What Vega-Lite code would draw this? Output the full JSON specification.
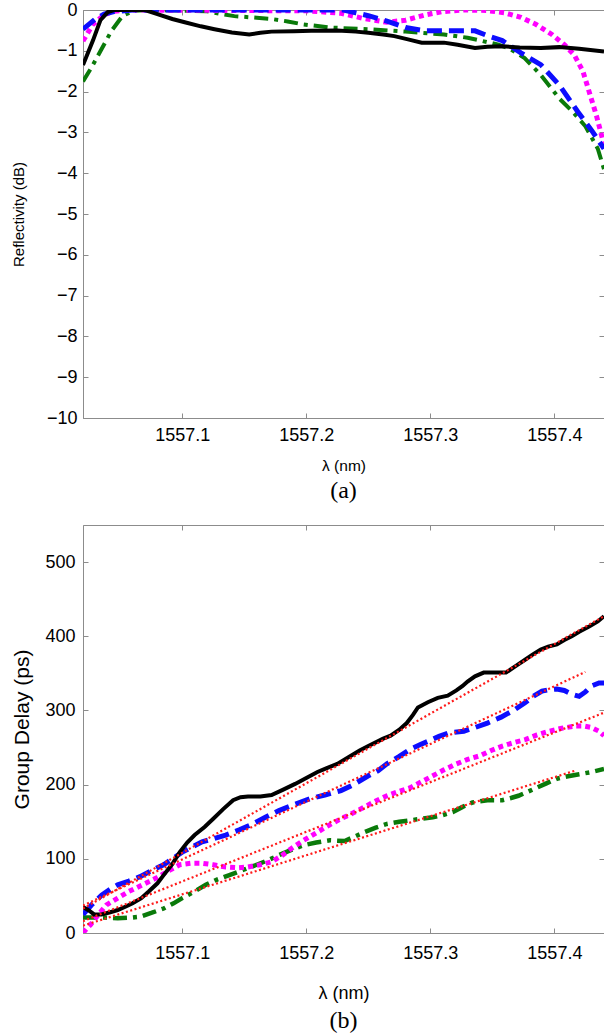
{
  "$schema": "https://vega.github.io/schema/vega-lite/v6.json",
  "padding": {"left": 10, "top": 0, "right": 0, "bottom": 0},
  "spacing": 21,
  "background": "white",
  "config": {
    "view": {"stroke": "#8c8c8c", "strokeWidth": 1},
    "axis": {
      "domainColor": "#8c8c8c", "tickColor": "#8c8c8c", "grid": false,
      "labelFont": "Liberation Sans", "labelFontSize": 18, "labelColor": "#000000",
      "titleFont": "Liberation Sans", "titleFontWeight": "normal", "titleColor": "#000000",
      "tickSize": -5
    },
    "title": {"font": "Liberation Serif", "fontWeight": "normal", "color": "#000000"}
  },
  "datasets": {
    "r_black": [
      {"lam": 1557.020, "v": -1.35}, {"lam": 1557.028, "v": -0.75}, {"lam": 1557.034, "v": -0.25}, {"lam": 1557.040, "v": -0.05},
      {"lam": 1557.045, "v": 0}, {"lam": 1557.060, "v": 0}, {"lam": 1557.070, "v": 0}, {"lam": 1557.080, "v": -0.1},
      {"lam": 1557.092, "v": -0.22}, {"lam": 1557.102, "v": -0.3}, {"lam": 1557.115, "v": -0.4}, {"lam": 1557.126, "v": -0.47},
      {"lam": 1557.140, "v": -0.55}, {"lam": 1557.154, "v": -0.6}, {"lam": 1557.163, "v": -0.56}, {"lam": 1557.172, "v": -0.53},
      {"lam": 1557.190, "v": -0.52}, {"lam": 1557.204, "v": -0.51}, {"lam": 1557.225, "v": -0.5}, {"lam": 1557.240, "v": -0.53},
      {"lam": 1557.250, "v": -0.56}, {"lam": 1557.262, "v": -0.6}, {"lam": 1557.271, "v": -0.64}, {"lam": 1557.282, "v": -0.72},
      {"lam": 1557.293, "v": -0.8}, {"lam": 1557.311, "v": -0.8}, {"lam": 1557.322, "v": -0.85}, {"lam": 1557.336, "v": -0.93},
      {"lam": 1557.346, "v": -0.9}, {"lam": 1557.358, "v": -0.89}, {"lam": 1557.372, "v": -0.92}, {"lam": 1557.389, "v": -0.93},
      {"lam": 1557.404, "v": -0.91}, {"lam": 1557.420, "v": -0.95}, {"lam": 1557.440, "v": -1.02}
    ],
    "r_blue": [
      {"lam": 1557.020, "v": -0.47}, {"lam": 1557.030, "v": -0.22}, {"lam": 1557.037, "v": -0.1}, {"lam": 1557.045, "v": -0.04},
      {"lam": 1557.060, "v": 0}, {"lam": 1557.230, "v": 0}, {"lam": 1557.240, "v": -0.07}, {"lam": 1557.250, "v": -0.14},
      {"lam": 1557.265, "v": -0.27}, {"lam": 1557.280, "v": -0.43}, {"lam": 1557.296, "v": -0.51}, {"lam": 1557.336, "v": -0.51},
      {"lam": 1557.348, "v": -0.65}, {"lam": 1557.358, "v": -0.75}, {"lam": 1557.373, "v": -1.05}, {"lam": 1557.389, "v": -1.34},
      {"lam": 1557.404, "v": -1.84}, {"lam": 1557.419, "v": -2.5}, {"lam": 1557.430, "v": -2.95}, {"lam": 1557.440, "v": -3.4}
    ],
    "r_magenta": [
      {"lam": 1557.020, "v": -0.76}, {"lam": 1557.028, "v": -0.35}, {"lam": 1557.037, "v": -0.12}, {"lam": 1557.045, "v": -0.03},
      {"lam": 1557.060, "v": 0}, {"lam": 1557.200, "v": -0.02}, {"lam": 1557.228, "v": -0.08}, {"lam": 1557.245, "v": -0.2},
      {"lam": 1557.265, "v": -0.3}, {"lam": 1557.280, "v": -0.25}, {"lam": 1557.296, "v": -0.12}, {"lam": 1557.310, "v": -0.04},
      {"lam": 1557.327, "v": 0}, {"lam": 1557.345, "v": -0.01}, {"lam": 1557.360, "v": -0.07}, {"lam": 1557.373, "v": -0.18},
      {"lam": 1557.385, "v": -0.35}, {"lam": 1557.398, "v": -0.6}, {"lam": 1557.408, "v": -0.85}, {"lam": 1557.416, "v": -1.1},
      {"lam": 1557.423, "v": -1.5}, {"lam": 1557.429, "v": -2.1}, {"lam": 1557.434, "v": -2.6}, {"lam": 1557.440, "v": -3.3}
    ],
    "r_green": [
      {"lam": 1557.020, "v": -1.75}, {"lam": 1557.027, "v": -1.4}, {"lam": 1557.034, "v": -1.01}, {"lam": 1557.043, "v": -0.51},
      {"lam": 1557.052, "v": -0.14}, {"lam": 1557.061, "v": -0.02}, {"lam": 1557.075, "v": 0}, {"lam": 1557.120, "v": -0.03},
      {"lam": 1557.132, "v": -0.1}, {"lam": 1557.142, "v": -0.15}, {"lam": 1557.160, "v": -0.19}, {"lam": 1557.172, "v": -0.22},
      {"lam": 1557.185, "v": -0.28}, {"lam": 1557.197, "v": -0.35}, {"lam": 1557.219, "v": -0.43}, {"lam": 1557.250, "v": -0.47},
      {"lam": 1557.280, "v": -0.53}, {"lam": 1557.311, "v": -0.6}, {"lam": 1557.330, "v": -0.68}, {"lam": 1557.342, "v": -0.76},
      {"lam": 1557.355, "v": -0.85}, {"lam": 1557.364, "v": -0.95}, {"lam": 1557.376, "v": -1.18}, {"lam": 1557.389, "v": -1.59},
      {"lam": 1557.404, "v": -2.17}, {"lam": 1557.415, "v": -2.5}, {"lam": 1557.425, "v": -2.85}, {"lam": 1557.435, "v": -3.4},
      {"lam": 1557.440, "v": -3.9}
    ],
    "g_black": [
      {"lam": 1557.020, "v": 35}, {"lam": 1557.025, "v": 30}, {"lam": 1557.029, "v": 25}, {"lam": 1557.035, "v": 25},
      {"lam": 1557.042, "v": 28}, {"lam": 1557.048, "v": 31}, {"lam": 1557.055, "v": 36}, {"lam": 1557.060, "v": 40},
      {"lam": 1557.067, "v": 47}, {"lam": 1557.073, "v": 56}, {"lam": 1557.080, "v": 67}, {"lam": 1557.085, "v": 78},
      {"lam": 1557.092, "v": 93}, {"lam": 1557.098, "v": 109}, {"lam": 1557.104, "v": 122}, {"lam": 1557.110, "v": 132},
      {"lam": 1557.118, "v": 143}, {"lam": 1557.125, "v": 154}, {"lam": 1557.133, "v": 167}, {"lam": 1557.141, "v": 179},
      {"lam": 1557.147, "v": 183}, {"lam": 1557.153, "v": 184}, {"lam": 1557.163, "v": 184}, {"lam": 1557.172, "v": 186},
      {"lam": 1557.181, "v": 193}, {"lam": 1557.191, "v": 201}, {"lam": 1557.200, "v": 209}, {"lam": 1557.209, "v": 217},
      {"lam": 1557.216, "v": 222}, {"lam": 1557.225, "v": 228}, {"lam": 1557.234, "v": 237}, {"lam": 1557.243, "v": 246},
      {"lam": 1557.250, "v": 252}, {"lam": 1557.256, "v": 257}, {"lam": 1557.262, "v": 262}, {"lam": 1557.268, "v": 266},
      {"lam": 1557.275, "v": 274}, {"lam": 1557.281, "v": 283}, {"lam": 1557.286, "v": 294}, {"lam": 1557.290, "v": 304},
      {"lam": 1557.298, "v": 311}, {"lam": 1557.306, "v": 317}, {"lam": 1557.314, "v": 320}, {"lam": 1557.321, "v": 327},
      {"lam": 1557.326, "v": 333}, {"lam": 1557.330, "v": 339}, {"lam": 1557.336, "v": 346}, {"lam": 1557.343, "v": 351},
      {"lam": 1557.352, "v": 351}, {"lam": 1557.361, "v": 351}, {"lam": 1557.369, "v": 360}, {"lam": 1557.377, "v": 369},
      {"lam": 1557.383, "v": 376}, {"lam": 1557.389, "v": 382}, {"lam": 1557.395, "v": 386}, {"lam": 1557.402, "v": 389},
      {"lam": 1557.408, "v": 395}, {"lam": 1557.414, "v": 400}, {"lam": 1557.420, "v": 406}, {"lam": 1557.428, "v": 413},
      {"lam": 1557.435, "v": 420}, {"lam": 1557.440, "v": 427}
    ],
    "g_blue": [
      {"lam": 1557.020, "v": 25}, {"lam": 1557.027, "v": 38}, {"lam": 1557.035, "v": 51}, {"lam": 1557.042, "v": 59},
      {"lam": 1557.048, "v": 65}, {"lam": 1557.057, "v": 70}, {"lam": 1557.066, "v": 76}, {"lam": 1557.075, "v": 84},
      {"lam": 1557.085, "v": 92}, {"lam": 1557.093, "v": 101}, {"lam": 1557.100, "v": 109}, {"lam": 1557.108, "v": 116},
      {"lam": 1557.116, "v": 123}, {"lam": 1557.125, "v": 127}, {"lam": 1557.135, "v": 132}, {"lam": 1557.146, "v": 139},
      {"lam": 1557.157, "v": 147}, {"lam": 1557.167, "v": 156}, {"lam": 1557.178, "v": 165}, {"lam": 1557.190, "v": 173},
      {"lam": 1557.203, "v": 181}, {"lam": 1557.215, "v": 186}, {"lam": 1557.228, "v": 192}, {"lam": 1557.238, "v": 200},
      {"lam": 1557.250, "v": 212}, {"lam": 1557.258, "v": 219}, {"lam": 1557.265, "v": 228}, {"lam": 1557.275, "v": 238},
      {"lam": 1557.284, "v": 248}, {"lam": 1557.292, "v": 254}, {"lam": 1557.299, "v": 259}, {"lam": 1557.307, "v": 265},
      {"lam": 1557.315, "v": 270}, {"lam": 1557.327, "v": 272}, {"lam": 1557.336, "v": 277}, {"lam": 1557.346, "v": 283},
      {"lam": 1557.357, "v": 291}, {"lam": 1557.368, "v": 301}, {"lam": 1557.376, "v": 310}, {"lam": 1557.383, "v": 319},
      {"lam": 1557.390, "v": 326}, {"lam": 1557.396, "v": 328}, {"lam": 1557.402, "v": 329}, {"lam": 1557.408, "v": 327},
      {"lam": 1557.414, "v": 322}, {"lam": 1557.420, "v": 319}, {"lam": 1557.425, "v": 325}, {"lam": 1557.430, "v": 333},
      {"lam": 1557.436, "v": 337}, {"lam": 1557.440, "v": 337}
    ],
    "g_magenta": [
      {"lam": 1557.020, "v": 0}, {"lam": 1557.023, "v": 6}, {"lam": 1557.026, "v": 11}, {"lam": 1557.032, "v": 24},
      {"lam": 1557.039, "v": 38}, {"lam": 1557.048, "v": 47}, {"lam": 1557.057, "v": 56}, {"lam": 1557.068, "v": 65},
      {"lam": 1557.079, "v": 74}, {"lam": 1557.088, "v": 83}, {"lam": 1557.098, "v": 92}, {"lam": 1557.107, "v": 94},
      {"lam": 1557.116, "v": 94}, {"lam": 1557.125, "v": 92}, {"lam": 1557.135, "v": 89}, {"lam": 1557.145, "v": 88},
      {"lam": 1557.153, "v": 89}, {"lam": 1557.163, "v": 92}, {"lam": 1557.172, "v": 96}, {"lam": 1557.180, "v": 104},
      {"lam": 1557.188, "v": 114}, {"lam": 1557.198, "v": 125}, {"lam": 1557.209, "v": 136}, {"lam": 1557.218, "v": 145},
      {"lam": 1557.228, "v": 154}, {"lam": 1557.238, "v": 162}, {"lam": 1557.247, "v": 170}, {"lam": 1557.256, "v": 178},
      {"lam": 1557.265, "v": 185}, {"lam": 1557.275, "v": 191}, {"lam": 1557.284, "v": 196}, {"lam": 1557.293, "v": 204},
      {"lam": 1557.302, "v": 212}, {"lam": 1557.311, "v": 220}, {"lam": 1557.321, "v": 228}, {"lam": 1557.330, "v": 234},
      {"lam": 1557.340, "v": 239}, {"lam": 1557.349, "v": 246}, {"lam": 1557.358, "v": 252}, {"lam": 1557.368, "v": 257},
      {"lam": 1557.377, "v": 261}, {"lam": 1557.386, "v": 267}, {"lam": 1557.396, "v": 272}, {"lam": 1557.406, "v": 276},
      {"lam": 1557.417, "v": 279}, {"lam": 1557.424, "v": 279}, {"lam": 1557.430, "v": 277}, {"lam": 1557.436, "v": 272},
      {"lam": 1557.440, "v": 266}
    ],
    "g_green": [
      {"lam": 1557.020, "v": 21}, {"lam": 1557.035, "v": 21}, {"lam": 1557.048, "v": 20}, {"lam": 1557.060, "v": 21},
      {"lam": 1557.066, "v": 22}, {"lam": 1557.075, "v": 27}, {"lam": 1557.085, "v": 33}, {"lam": 1557.093, "v": 40},
      {"lam": 1557.100, "v": 47}, {"lam": 1557.110, "v": 56}, {"lam": 1557.119, "v": 65}, {"lam": 1557.128, "v": 72},
      {"lam": 1557.138, "v": 78}, {"lam": 1557.149, "v": 85}, {"lam": 1557.160, "v": 92}, {"lam": 1557.169, "v": 98},
      {"lam": 1557.178, "v": 105}, {"lam": 1557.188, "v": 112}, {"lam": 1557.197, "v": 118}, {"lam": 1557.208, "v": 122},
      {"lam": 1557.219, "v": 125}, {"lam": 1557.231, "v": 124}, {"lam": 1557.239, "v": 130}, {"lam": 1557.247, "v": 136},
      {"lam": 1557.256, "v": 142}, {"lam": 1557.265, "v": 147}, {"lam": 1557.275, "v": 150}, {"lam": 1557.284, "v": 152},
      {"lam": 1557.293, "v": 154}, {"lam": 1557.302, "v": 156}, {"lam": 1557.310, "v": 159}, {"lam": 1557.318, "v": 163},
      {"lam": 1557.326, "v": 170}, {"lam": 1557.334, "v": 176}, {"lam": 1557.346, "v": 179}, {"lam": 1557.358, "v": 179},
      {"lam": 1557.365, "v": 182}, {"lam": 1557.371, "v": 185}, {"lam": 1557.378, "v": 190}, {"lam": 1557.386, "v": 196},
      {"lam": 1557.394, "v": 202}, {"lam": 1557.402, "v": 208}, {"lam": 1557.410, "v": 211}, {"lam": 1557.420, "v": 214},
      {"lam": 1557.430, "v": 217}, {"lam": 1557.440, "v": 221}
    ],
    "fits": [
      {"fit": "black", "lam": 1557.020, "v": 33}, {"fit": "black", "lam": 1557.440, "v": 427},
      {"fit": "blue", "lam": 1557.020, "v": 37}, {"fit": "blue", "lam": 1557.425, "v": 352},
      {"fit": "magenta", "lam": 1557.020, "v": 16}, {"fit": "magenta", "lam": 1557.440, "v": 297},
      {"fit": "green", "lam": 1557.020, "v": 10}, {"fit": "green", "lam": 1557.417, "v": 219}
    ]
  },
  "vconcat": [
    {
      "width": 521, "height": 408,
      "title": {"text": "(a)", "orient": "bottom", "anchor": "middle", "frame": "group", "fontSize": 24, "offset": 5},
      "resolve": {"axis": {"x": "independent", "y": "independent"}},
      "layer": [
        {
          "data": {"name": "r_green"},
          "mark": {"type": "line", "color": "#0a7a0a", "strokeWidth": 4, "strokeDash": [14, 6, 4, 6], "clip": true},
          "encoding": {
            "x": {"field": "lam", "type": "quantitative", "scale": {"domain": [1557.02, 1557.44], "nice": false, "zero": false},
                  "axis": {"orient": "bottom", "values": [1557.1, 1557.2, 1557.3, 1557.4], "format": ".1f", "labelPadding": 13, "title": "λ (nm)", "titleFontSize": 15.5, "titlePadding": 14}},
            "y": {"field": "v", "type": "quantitative", "scale": {"domain": [-10, 0], "nice": false, "zero": false},
                  "axis": {"orient": "left", "values": [-10, -9, -8, -7, -6, -5, -4, -3, -2, -1, 0], "format": "d", "labelPadding": 11, "title": "Reflectivity (dB)", "titleFontSize": 15, "titlePadding": 20}}
          }
        },
        {
          "data": {"name": "r_magenta"},
          "mark": {"type": "line", "color": "#ff00ff", "strokeWidth": 5, "strokeDash": [5, 4], "clip": true},
          "encoding": {
            "x": {"field": "lam", "type": "quantitative", "scale": {"domain": [1557.02, 1557.44], "nice": false, "zero": false},
                  "axis": {"orient": "top", "values": [1557.1, 1557.2, 1557.3, 1557.4], "labels": false, "domain": false, "title": null}},
            "y": {"field": "v", "type": "quantitative", "scale": {"domain": [-10, 0], "nice": false, "zero": false},
                  "axis": {"orient": "right", "values": [-10, -9, -8, -7, -6, -5, -4, -3, -2, -1, 0], "labels": false, "domain": false, "title": null}}
          }
        },
        {
          "data": {"name": "r_blue"},
          "mark": {"type": "line", "color": "#0d0dff", "strokeWidth": 5, "strokeDash": [15, 7], "clip": true},
          "encoding": {
            "x": {"field": "lam", "type": "quantitative", "axis": null},
            "y": {"field": "v", "type": "quantitative", "axis": null}
          }
        },
        {
          "data": {"name": "r_black"},
          "mark": {"type": "line", "color": "#000000", "strokeWidth": 4, "clip": true},
          "encoding": {
            "x": {"field": "lam", "type": "quantitative", "axis": null},
            "y": {"field": "v", "type": "quantitative", "axis": null}
          }
        }
      ]
    },
    {
      "width": 521, "height": 408,
      "title": {"text": "(b)", "orient": "bottom", "anchor": "middle", "frame": "group", "fontSize": 24, "offset": 7},
      "resolve": {"axis": {"x": "independent", "y": "independent"}},
      "layer": [
        {
          "data": {"name": "g_green"},
          "mark": {"type": "line", "color": "#0a7a0a", "strokeWidth": 4.5, "strokeDash": [14, 6, 4, 6], "clip": true},
          "encoding": {
            "x": {"field": "lam", "type": "quantitative", "scale": {"domain": [1557.02, 1557.44], "nice": false, "zero": false},
                  "axis": {"orient": "bottom", "values": [1557.1, 1557.2, 1557.3, 1557.4], "format": ".1f", "labelPadding": 16, "title": "λ (nm)", "titleFontSize": 18, "titlePadding": 22}},
            "y": {"field": "v", "type": "quantitative", "scale": {"domain": [0, 550], "nice": false, "zero": false},
                  "axis": {"orient": "left", "values": [0, 100, 200, 300, 400, 500], "format": "d", "labelPadding": 13, "title": "Group Delay (ps)", "titleFontSize": 21, "titlePadding": 12}}
          }
        },
        {
          "data": {"name": "g_magenta"},
          "mark": {"type": "line", "color": "#ff00ff", "strokeWidth": 5, "strokeDash": [5, 4], "clip": true},
          "encoding": {
            "x": {"field": "lam", "type": "quantitative", "scale": {"domain": [1557.02, 1557.44], "nice": false, "zero": false},
                  "axis": {"orient": "top", "values": [1557.1, 1557.2, 1557.3, 1557.4], "labels": false, "domain": false, "title": null}},
            "y": {"field": "v", "type": "quantitative", "scale": {"domain": [0, 550], "nice": false, "zero": false},
                  "axis": {"orient": "right", "values": [0, 100, 200, 300, 400, 500], "labels": false, "domain": false, "title": null}}
          }
        },
        {
          "data": {"name": "g_blue"},
          "mark": {"type": "line", "color": "#0d0dff", "strokeWidth": 5, "strokeDash": [15, 7], "clip": true},
          "encoding": {
            "x": {"field": "lam", "type": "quantitative", "axis": null},
            "y": {"field": "v", "type": "quantitative", "axis": null}
          }
        },
        {
          "data": {"name": "g_black"},
          "mark": {"type": "line", "color": "#000000", "strokeWidth": 4, "clip": true},
          "encoding": {
            "x": {"field": "lam", "type": "quantitative", "axis": null},
            "y": {"field": "v", "type": "quantitative", "axis": null}
          }
        },
        {
          "data": {"name": "fits"},
          "mark": {"type": "line", "color": "#ff1a1a", "strokeWidth": 2.2, "strokeDash": [2, 2.5], "clip": true},
          "encoding": {
            "x": {"field": "lam", "type": "quantitative", "axis": null},
            "y": {"field": "v", "type": "quantitative", "axis": null},
            "detail": {"field": "fit", "type": "nominal"}
          }
        }
      ]
    }
  ]
}
